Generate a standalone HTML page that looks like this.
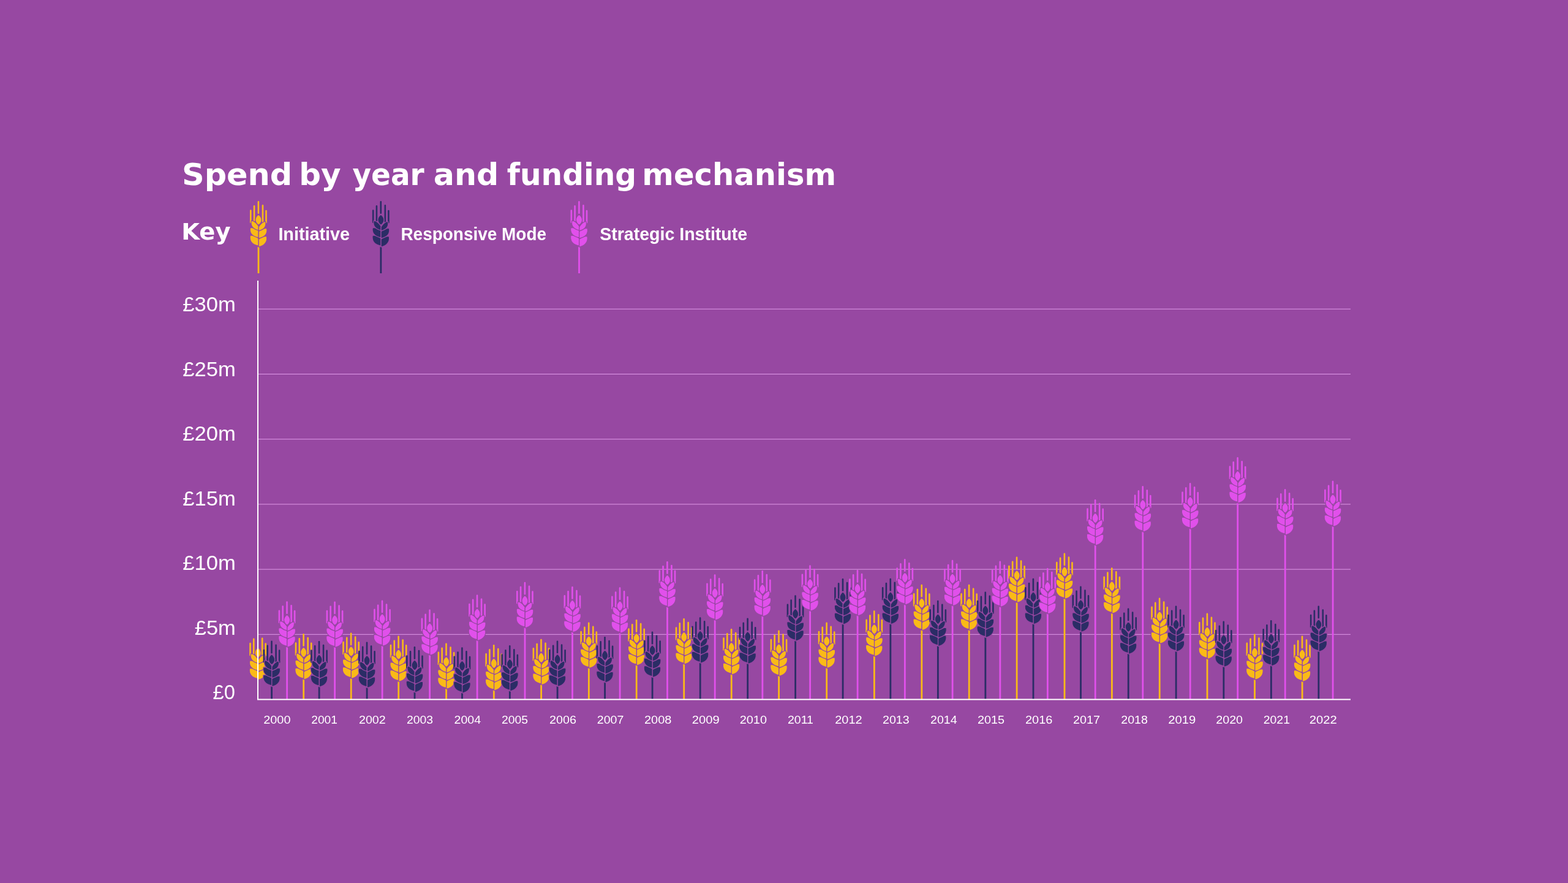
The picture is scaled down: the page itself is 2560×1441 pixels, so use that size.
<!DOCTYPE html>
<html lang="en">
<head>
<meta charset="utf-8">
<title>Spend by year and funding mechanism</title>
<style>
html,body{margin:0;padding:0;background:#9748A2;}
body{width:2560px;height:1441px;overflow:hidden;}
svg{display:block;}
text{font-family:"Liberation Sans","DejaVu Sans",sans-serif;fill:#fff;}
.title,.key{font-family:"DejaVu Sans","Liberation Sans",sans-serif;font-weight:bold;}
.leg{font-weight:bold;}
.aw{fill:none;stroke:currentColor;stroke-width:2.6;stroke-linecap:round;}
.st{fill:none;stroke:currentColor;stroke-width:2.8;}
.gr{fill:currentColor;stroke:#9748A2;stroke-width:1.2;stroke-linejoin:round;}
.g{color:#FABA17;}
.n{color:#2B2D66;}
.p{color:#E150EB;}
.grid{stroke:#E09AE9;stroke-width:1;fill:none;}
.axis{stroke:#fff;stroke-width:2;fill:none;}
</style>
</head>
<body>
<svg width="2560" height="1441" viewBox="0 0 2560 1441">
<rect width="2560" height="1441" fill="#9748A2"/>
<defs><g id="hx"><path class="aw" d="M-6.85,8.3V32 M7.05,7.1V33.5 M-12.6,15.5V34.6 M12.6,15.9V35"/><path class="gr" d="M-13.50,55.90 C-9.76,55.90 -3.95,57.70 0.3,60.90 L0.3,73.30 C-9.87,71.30 -15.20,65.12 -13.50,55.90Z"/><path class="gr" d="M13.50,57.20 C9.93,57.20 4.37,59.00 0.3,62.20 L0.3,75.00 C10.03,73.00 15.20,66.63 13.50,57.20Z"/><path class="gr" d="M-13.40,43.20 C-9.69,43.20 -3.92,45.00 0.3,48.20 L0.3,59.80 C-9.79,57.80 -15.10,52.00 -13.40,43.20Z"/><path class="gr" d="M13.70,44.40 C10.07,44.40 4.43,46.20 0.3,49.40 L0.3,61.10 C10.17,59.10 15.40,53.25 13.70,44.40Z"/><path class="gr" d="M-11.60,32.10 C-8.38,32.10 -3.37,35.34 0.3,41.10 L0.3,47.90 C-8.47,45.90 -13.30,40.47 -11.60,32.10Z"/><path class="gr" d="M11.70,33.40 C8.61,33.40 3.81,36.64 0.3,42.40 L0.3,48.80 C8.70,46.80 13.40,41.56 11.70,33.40Z"/><path class="gr" d="M0,21.9 C-3.6,25 -5.1,28.2 -5,30.8 C-4.9,34.1 -3,37 0.2,39.1 C3.4,37 5.2,34.1 5.2,30.8 C5.2,28.2 3.9,25 0,21.9Z"/></g><g id="hd"><path class="aw" d="M0,1.3V19.6"/><use href="#hx"/></g></defs>
<text class="title" y="302" font-size="50"><tspan x="297.04" textLength="180.24" lengthAdjust="spacingAndGlyphs">Spend</tspan> <tspan x="488.26" textLength="68.23" lengthAdjust="spacingAndGlyphs">by</tspan> <tspan x="575.55" textLength="117.10" lengthAdjust="spacingAndGlyphs">year</tspan> <tspan x="707.72" textLength="106.47" lengthAdjust="spacingAndGlyphs">and</tspan> <tspan x="827.78" textLength="211.37" lengthAdjust="spacingAndGlyphs">funding</tspan> <tspan x="1048.29" textLength="316.77" lengthAdjust="spacingAndGlyphs">mechanism</tspan></text>
<text class="key" transform="matrix(1.0214,0,0,1,296.29,391.25)" font-size="37.6">Key</text>
<text class="leg" transform="matrix(0.9918,0,0,1,454.38,391.90)" font-size="29">Initiative</text>
<text class="leg" transform="matrix(0.9641,0,0,1,654.43,391.90)" font-size="29">Responsive Mode</text>
<text class="leg" transform="matrix(0.9845,0,0,1,979.14,391.90)" font-size="29">Strategic Institute</text>
<g class="g" transform="translate(421.90,328.10)"><path class="st" d="M0.1,74.6V117.90"/><use href="#hd"/></g>
<g class="n" transform="translate(621.75,328.10)"><path class="st" d="M0.1,74.6V117.90"/><use href="#hd"/></g>
<g class="p" transform="translate(945.40,328.10)"><path class="st" d="M0.1,74.6V117.90"/><use href="#hd"/></g>
<path class="grid" d="M421.0,504.30H2205"/>
<path class="grid" d="M421.0,610.50H2205"/>
<path class="grid" d="M421.0,716.70H2205"/>
<path class="grid" d="M421.0,822.90H2205"/>
<path class="grid" d="M421.0,929.10H2205"/>
<path class="grid" d="M421.0,1035.30H2205"/>
<text class="yl" transform="matrix(1.0420,0,0,1,298.36,508.10)" font-size="33.2">£30m</text>
<text class="yl" transform="matrix(1.0420,0,0,1,298.36,613.65)" font-size="33.2">£25m</text>
<text class="yl" transform="matrix(1.0420,0,0,1,298.36,719.20)" font-size="33.2">£20m</text>
<text class="yl" transform="matrix(1.0420,0,0,1,298.36,824.75)" font-size="33.2">£15m</text>
<text class="yl" transform="matrix(1.0420,0,0,1,298.36,930.30)" font-size="33.2">£10m</text>
<text class="yl" transform="matrix(1.0396,0,0,1,317.71,1035.85)" font-size="33.2">£5m</text>
<text class="yl" transform="matrix(0.9829,0,0,1,347.52,1141.40)" font-size="33.2">£0</text>
<g class="g" transform="translate(421.10,1034.60)"><use href="#hx"/></g>
<g class="n" transform="translate(443.50,1045.60)"><path class="st" d="M0.1,74.6V95.90"/><use href="#hd"/></g>
<g class="p" transform="translate(468.50,981.25)"><path class="st" d="M0.1,74.6V160.25"/><use href="#hd"/></g>
<g class="g" transform="translate(495.60,1034.00)"><path class="st" d="M0.1,74.6V107.50"/><use href="#hd"/></g>
<g class="n" transform="translate(521.00,1046.00)"><path class="st" d="M0.1,74.6V95.50"/><use href="#hd"/></g>
<g class="p" transform="translate(546.50,981.50)"><path class="st" d="M0.1,74.6V160.00"/><use href="#hd"/></g>
<g class="g" transform="translate(573.10,1032.50)"><path class="st" d="M0.1,74.6V109.00"/><use href="#hd"/></g>
<g class="n" transform="translate(599.00,1047.50)"><path class="st" d="M0.1,74.6V94.00"/><use href="#hd"/></g>
<g class="p" transform="translate(624.00,979.40)"><path class="st" d="M0.1,74.6V162.10"/><use href="#hd"/></g>
<g class="g" transform="translate(650.60,1037.50)"><path class="st" d="M0.1,74.6V104.00"/><use href="#hd"/></g>
<g class="n" transform="translate(676.90,1055.00)"><path class="st" d="M0.1,74.6V86.50"/><use href="#hd"/></g>
<g class="p" transform="translate(701.50,994.40)"><path class="st" d="M0.1,74.6V147.10"/><use href="#hd"/></g>
<g class="g" transform="translate(728.50,1049.40)"><path class="st" d="M0.1,74.6V92.10"/><use href="#hd"/></g>
<g class="n" transform="translate(754.40,1056.25)"><path class="st" d="M0.1,74.6V85.25"/><use href="#hd"/></g>
<g class="p" transform="translate(779.00,970.60)"><path class="st" d="M0.1,74.6V170.90"/><use href="#hd"/></g>
<g class="g" transform="translate(806.25,1051.90)"><path class="st" d="M0.1,74.6V89.60"/><use href="#hd"/></g>
<g class="n" transform="translate(832.25,1053.10)"><path class="st" d="M0.1,74.6V88.40"/><use href="#hd"/></g>
<g class="p" transform="translate(856.90,949.75)"><path class="st" d="M0.1,74.6V191.75"/><use href="#hd"/></g>
<g class="g" transform="translate(883.50,1042.75)"><path class="st" d="M0.1,74.6V98.75"/><use href="#hd"/></g>
<g class="n" transform="translate(910.00,1045.40)"><path class="st" d="M0.1,74.6V96.10"/><use href="#hd"/></g>
<g class="p" transform="translate(934.40,956.90)"><path class="st" d="M0.1,74.6V184.60"/><use href="#hd"/></g>
<g class="g" transform="translate(961.25,1015.60)"><path class="st" d="M0.1,74.6V125.90"/><use href="#hd"/></g>
<g class="n" transform="translate(987.50,1039.00)"><path class="st" d="M0.1,74.6V102.50"/><use href="#hd"/></g>
<g class="p" transform="translate(1012.00,958.30)"><path class="st" d="M0.1,74.6V183.20"/><use href="#hd"/></g>
<g class="g" transform="translate(1039.10,1011.00)"><path class="st" d="M0.1,74.6V130.50"/><use href="#hd"/></g>
<g class="n" transform="translate(1065.00,1030.60)"><path class="st" d="M0.1,74.6V110.90"/><use href="#hd"/></g>
<g class="p" transform="translate(1089.40,916.00)"><path class="st" d="M0.1,74.6V225.50"/><use href="#hd"/></g>
<g class="g" transform="translate(1116.60,1009.00)"><path class="st" d="M0.1,74.6V132.50"/><use href="#hd"/></g>
<g class="n" transform="translate(1143.10,1007.25)"><path class="st" d="M0.1,74.6V134.25"/><use href="#hd"/></g>
<g class="p" transform="translate(1167.10,937.25)"><path class="st" d="M0.1,74.6V204.25"/><use href="#hd"/></g>
<g class="g" transform="translate(1194.10,1026.00)"><path class="st" d="M0.1,74.6V115.50"/><use href="#hd"/></g>
<g class="n" transform="translate(1220.60,1008.50)"><path class="st" d="M0.1,74.6V133.00"/><use href="#hd"/></g>
<g class="p" transform="translate(1244.75,931.00)"><path class="st" d="M0.1,74.6V210.50"/><use href="#hd"/></g>
<g class="g" transform="translate(1271.50,1028.50)"><path class="st" d="M0.1,74.6V113.00"/><use href="#hd"/></g>
<g class="n" transform="translate(1298.50,971.25)"><path class="st" d="M0.1,74.6V170.25"/><use href="#hd"/></g>
<g class="p" transform="translate(1322.50,922.25)"><path class="st" d="M0.1,74.6V219.25"/><use href="#hd"/></g>
<g class="g" transform="translate(1349.60,1015.60)"><path class="st" d="M0.1,74.6V125.90"/><use href="#hd"/></g>
<g class="n" transform="translate(1376.00,944.00)"><path class="st" d="M0.1,74.6V197.50"/><use href="#hd"/></g>
<g class="p" transform="translate(1400.00,930.00)"><path class="st" d="M0.1,74.6V211.50"/><use href="#hd"/></g>
<g class="g" transform="translate(1427.25,996.25)"><path class="st" d="M0.1,74.6V145.25"/><use href="#hd"/></g>
<g class="n" transform="translate(1453.75,943.75)"><path class="st" d="M0.1,74.6V197.75"/><use href="#hd"/></g>
<g class="p" transform="translate(1477.25,912.10)"><path class="st" d="M0.1,74.6V229.40"/><use href="#hd"/></g>
<g class="g" transform="translate(1504.75,953.75)"><path class="st" d="M0.1,74.6V187.75"/><use href="#hd"/></g>
<g class="n" transform="translate(1531.25,979.75)"><path class="st" d="M0.1,74.6V161.75"/><use href="#hd"/></g>
<g class="p" transform="translate(1555.00,913.75)"><path class="st" d="M0.1,74.6V227.75"/><use href="#hd"/></g>
<g class="g" transform="translate(1582.10,953.75)"><path class="st" d="M0.1,74.6V187.75"/><use href="#hd"/></g>
<g class="n" transform="translate(1608.75,965.60)"><path class="st" d="M0.1,74.6V175.90"/><use href="#hd"/></g>
<g class="p" transform="translate(1632.75,915.60)"><path class="st" d="M0.1,74.6V225.90"/><use href="#hd"/></g>
<g class="g" transform="translate(1660.00,908.50)"><path class="st" d="M0.1,74.6V233.00"/><use href="#hd"/></g>
<g class="n" transform="translate(1686.90,943.75)"><path class="st" d="M0.1,74.6V197.75"/><use href="#hd"/></g>
<g class="p" transform="translate(1710.25,926.90)"><path class="st" d="M0.1,74.6V214.60"/><use href="#hd"/></g>
<g class="g" transform="translate(1737.90,902.50)"><path class="st" d="M0.1,74.6V239.00"/><use href="#hd"/></g>
<g class="n" transform="translate(1764.40,956.50)"><path class="st" d="M0.1,74.6V185.00"/><use href="#hd"/></g>
<g class="p" transform="translate(1788.10,815.00)"><path class="st" d="M0.1,74.6V326.50"/><use href="#hd"/></g>
<g class="g" transform="translate(1815.25,926.25)"><path class="st" d="M0.1,74.6V215.25"/><use href="#hd"/></g>
<g class="n" transform="translate(1842.10,992.50)"><path class="st" d="M0.1,74.6V149.00"/><use href="#hd"/></g>
<g class="p" transform="translate(1865.70,793.10)"><path class="st" d="M0.1,74.6V348.40"/><use href="#hd"/></g>
<g class="g" transform="translate(1893.10,975.40)"><path class="st" d="M0.1,74.6V166.10"/><use href="#hd"/></g>
<g class="n" transform="translate(1920.00,988.50)"><path class="st" d="M0.1,74.6V153.00"/><use href="#hd"/></g>
<g class="p" transform="translate(1943.10,788.10)"><path class="st" d="M0.1,74.6V353.40"/><use href="#hd"/></g>
<g class="g" transform="translate(1970.90,1000.60)"><path class="st" d="M0.1,74.6V140.90"/><use href="#hd"/></g>
<g class="n" transform="translate(1997.75,1013.50)"><path class="st" d="M0.1,74.6V128.00"/><use href="#hd"/></g>
<g class="p" transform="translate(2020.60,746.10)"><path class="st" d="M0.1,74.6V395.40"/><use href="#hd"/></g>
<g class="g" transform="translate(2048.40,1034.40)"><path class="st" d="M0.1,74.6V107.10"/><use href="#hd"/></g>
<g class="n" transform="translate(2075.25,1011.90)"><path class="st" d="M0.1,74.6V129.60"/><use href="#hd"/></g>
<g class="p" transform="translate(2098.10,798.10)"><path class="st" d="M0.1,74.6V343.40"/><use href="#hd"/></g>
<g class="g" transform="translate(2126.00,1037.50)"><path class="st" d="M0.1,74.6V104.00"/><use href="#hd"/></g>
<g class="n" transform="translate(2152.75,988.50)"><path class="st" d="M0.1,74.6V153.00"/><use href="#hd"/></g>
<g class="p" transform="translate(2176.00,784.40)"><path class="st" d="M0.1,74.6V357.10"/><use href="#hd"/></g>
<path class="axis" d="M421.0,458V1141.5H2205"/>
<text class="xl" transform="matrix(1.0477,0,0,1,430.25,1181.00)" font-size="19">2000</text>
<text class="xl" transform="matrix(1.0093,0,0,1,508.29,1181.00)" font-size="19">2001</text>
<text class="xl" transform="matrix(1.0341,0,0,1,586.02,1181.00)" font-size="19">2002</text>
<text class="xl" transform="matrix(1.0193,0,0,1,664.03,1181.00)" font-size="19">2003</text>
<text class="xl" transform="matrix(1.0305,0,0,1,741.52,1181.00)" font-size="19">2004</text>
<text class="xl" transform="matrix(1.0169,0,0,1,819.03,1181.00)" font-size="19">2005</text>
<text class="xl" transform="matrix(1.0378,0,0,1,897.01,1181.00)" font-size="19">2006</text>
<text class="xl" transform="matrix(1.0341,0,0,1,974.77,1181.00)" font-size="19">2007</text>
<text class="xl" transform="matrix(1.0502,0,0,1,1052.00,1181.00)" font-size="19">2008</text>
<text class="xl" transform="matrix(1.0625,0,0,1,1129.74,1181.00)" font-size="19">2009</text>
<text class="xl" transform="matrix(1.0477,0,0,1,1207.75,1181.00)" font-size="19">2010</text>
<text class="xl" transform="matrix(1.0270,0,0,1,1286.02,1181.00)" font-size="19">2011</text>
<text class="xl" transform="matrix(1.0526,0,0,1,1363.25,1181.00)" font-size="19">2012</text>
<text class="xl" transform="matrix(1.0316,0,0,1,1441.02,1181.00)" font-size="19">2013</text>
<text class="xl" transform="matrix(1.0305,0,0,1,1519.02,1181.00)" font-size="19">2014</text>
<text class="xl" transform="matrix(1.0415,0,0,1,1596.01,1181.00)" font-size="19">2015</text>
<text class="xl" transform="matrix(1.0502,0,0,1,1674.00,1181.00)" font-size="19">2016</text>
<text class="xl" transform="matrix(1.0402,0,0,1,1752.01,1181.00)" font-size="19">2017</text>
<text class="xl" transform="matrix(1.0316,0,0,1,1830.27,1181.00)" font-size="19">2018</text>
<text class="xl" transform="matrix(1.0625,0,0,1,1907.24,1181.00)" font-size="19">2019</text>
<text class="xl" transform="matrix(1.0354,0,0,1,1985.27,1181.00)" font-size="19">2020</text>
<text class="xl" transform="matrix(1.0217,0,0,1,2062.78,1181.00)" font-size="19">2021</text>
<text class="xl" transform="matrix(1.0650,0,0,1,2137.74,1181.00)" font-size="19">2022</text>
</svg>
</body>
</html>
